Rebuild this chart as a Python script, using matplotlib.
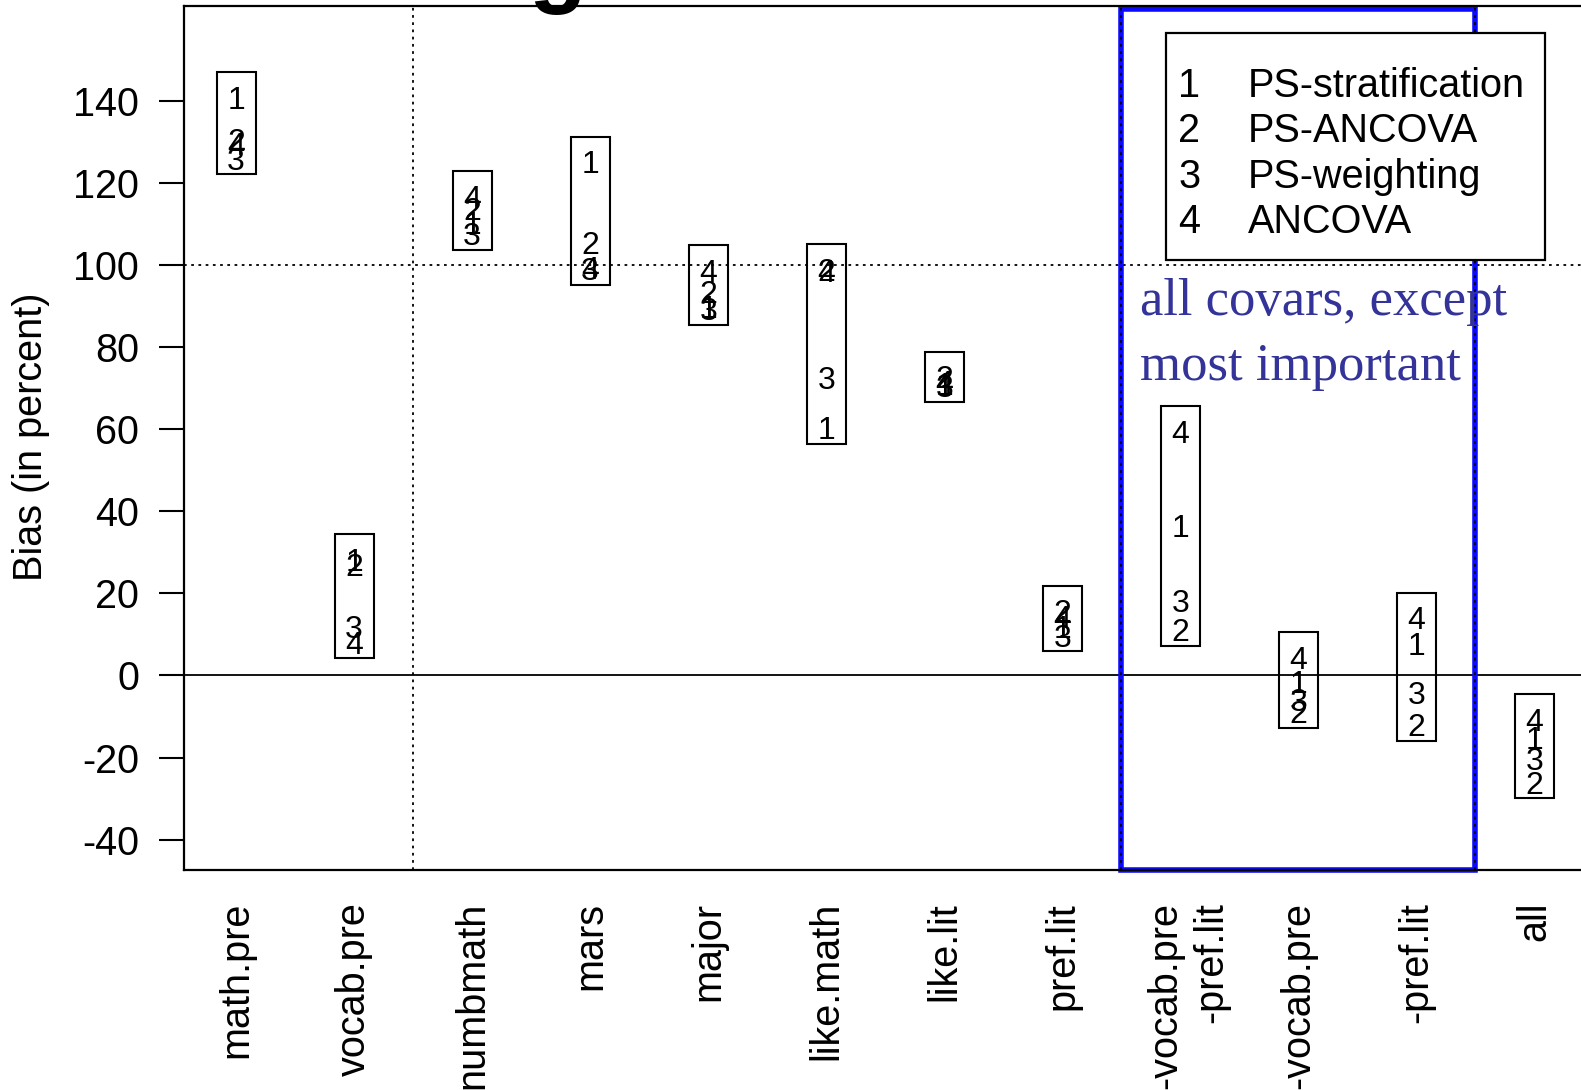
import matplotlib
matplotlib.use("Agg")
import matplotlib.pyplot as plt
from matplotlib.patches import Rectangle
from matplotlib.transforms import ScaledTranslation
import numpy as np

plt.rcParams['font.family'] = ['Liberation Sans', 'DejaVu Sans']
plt.rcParams['axes.unicode_minus'] = False

# covariate sets left out of the propensity score model
categories = ['math.pre', 'vocab.pre', 'numbmath', 'mars', 'major', 'like.math',
              'like.lit', 'pref.lit', '-vocab.pre\n-pref.lit', '-vocab.pre',
              '-pref.lit', 'all']

# bias (in percent) per method
bias_ps_strat = [140.8, 28.3, 110.3, 125.1, 89.9, 60.4, 71.0, 11.8, 36.6, -1.5, 7.7, -15.2]
bias_ps_ancova = [130.5, 27.0, 113.8, 105.4, 93.6, 98.8, 72.7, 15.7, 11.1, -8.8, -12.0, -26.0]
bias_ps_weight = [126.0, 12.0, 107.6, 99.0, 89.4, 72.5, 70.5, 9.8, 18.2, -5.9, -4.1, -20.3]
bias_ancova = [129.5, 8.1, 116.7, 99.3, 98.6, 98.6, 71.7, 14.3, 59.5, 4.3, 14.0, -10.8]

method_codes = ['1', '2', '3', '4']
method_labels = ['PS-stratification', 'PS-ANCOVA', 'PS-weighting', 'ANCOVA']

W, H = 1581, 1090
fs = 28.5

fig = plt.figure(figsize=(W / 100, H / 100), dpi=100)
ax = fig.add_axes([183.5 / W, 1 - 870 / H, (1587 - 183.5) / W, (870 - 6) / H])

x = np.arange(1, len(categories) + 1)
all_bias = np.array([bias_ps_strat, bias_ps_ancova, bias_ps_weight, bias_ancova])

# reference lines
ax.axhline(0, color='black', lw=1.3, zorder=1)
ax.axhline(100, color='black', lw=1.3, ls=(0, (1.5, 2.5)), zorder=1)
for xv in [2.5, 8.5, 11.5]:
    ax.axvline(xv, color='black', lw=1.3, ls=(0, (1.5, 2.5)), zorder=3)

# highlight box
ax.add_patch(Rectangle((8.5, 0.0), 3.0, 0.997, transform=ax.get_xaxis_transform(),
                       fill=False, edgecolor='#0a0aff', lw=4, zorder=2, clip_on=False))

# boxes with method numbers
box_w = 0.33
for i, xi in enumerate(x):
    vals = all_bias[:, i]
    lo = vals.min() - 3.9
    hi = vals.max() + 6.2
    ax.add_patch(Rectangle((xi - box_w / 2, lo), box_w, hi - lo, fill=False,
                           edgecolor='black', lw=1.5, zorder=4))
    for code, v in zip(method_codes, vals):
        ax.annotate(code, (xi, v), xytext=(0, -8.2), textcoords='offset points',
                    ha='center', va='baseline', fontsize=23, zorder=5)

ax.set_xlim(0.555, 12.445)
ax.set_ylim(-47.4, 163.1)
ax.set_yticks(np.arange(-40, 141, 20))
ax.set_xticks(x)
ax.set_xticklabels(categories, rotation=90, va='top', ha='center',
                   multialignment='right', fontsize=fs, linespacing=1.25)
ax.tick_params(axis='x', length=0, pad=23)
ax.tick_params(axis='y', length=18, width=1.5, pad=14, labelsize=fs)
for s in ['left', 'bottom', 'top']:
    ax.spines[s].set_linewidth(1.6)
ax.spines['right'].set_visible(False)

# the two-line label sits a little right of its tick
lab9 = ax.get_xticklabels()[8]
lab9.set_transform(lab9.get_transform() + ScaledTranslation(8 / 100, 0, fig.dpi_scale_trans))

fig.text(31 / W, 1 - 437 / H, 'Bias (in percent)', rotation=90, ha='center',
         va='center', fontsize=fs)

# legend drawn by hand
fig.patches.append(Rectangle((1166 / W, 1 - 260 / H), (1545 - 1166) / W, (260 - 33) / H,
                             transform=fig.transFigure, facecolor='white',
                             edgecolor='black', lw=1.6, zorder=6))
for j, (code, lab) in enumerate(zip(method_codes, method_labels)):
    yb = 1 - (97 + 45.3 * j) / H
    fig.text(1178 / W, yb, code, fontsize=fs, va='baseline', zorder=7)
    fig.text(1248 / W, yb, lab, fontsize=fs, va='baseline', zorder=7)

# annotation
for k, line in enumerate(['all covars, except', 'most important']):
    fig.text(1140 / W, 1 - (315 + 65 * k) / H, line, fontsize=38, va='baseline',
             color='#333399', family=['Liberation Serif', 'DejaVu Serif'], zorder=8)

# remnant of a cut-off heading above the plot
fig.text(557 / W, 1 + 5 / H, 'g', fontsize=68, fontweight='bold', ha='center',
         va='baseline')

fig.savefig('out.png', dpi=100)
